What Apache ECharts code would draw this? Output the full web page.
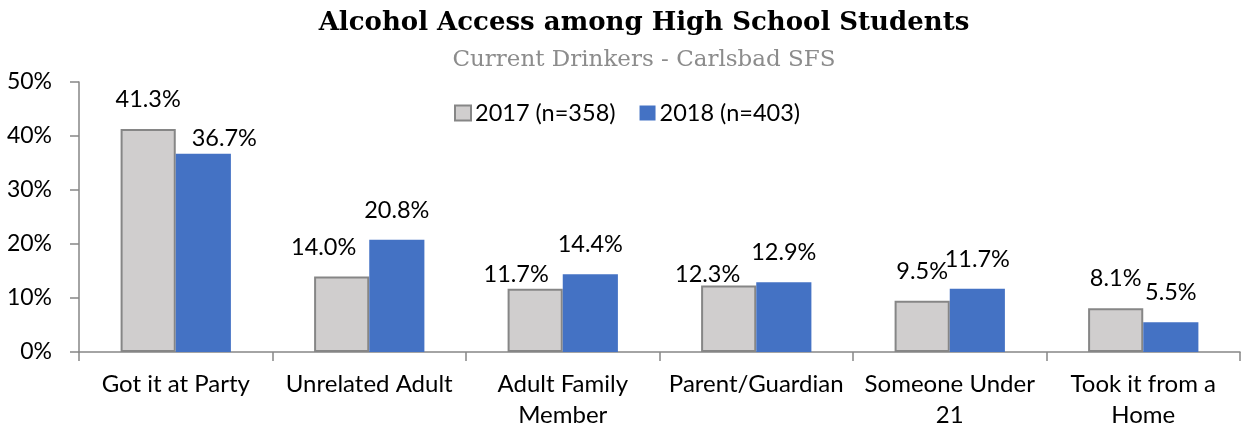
<!DOCTYPE html>
<html>
<head>
<meta charset="utf-8">
<script src="https://cdn.jsdelivr.net/npm/echarts@6/dist/echarts.min.js"></script>
<style>
  html, body { margin: 0; padding: 0; background: #fff; }
  #chart { width: 1241px; height: 431px; }
</style>
</head>
<body>
<div id="chart"></div>
<script>
// Where current drinkers got alcohol, by survey year (percent of respondents)
const categories = [
  'Got it at Party',
  'Unrelated Adult',
  'Adult Family\nMember',
  'Parent/Guardian',
  'Someone Under\n21',
  'Took it from a\nHome'
];
const series2017 = [41.3, 14.0, 11.7, 12.3, 9.5, 8.1];
const series2018 = [36.7, 20.8, 14.4, 12.9, 11.7, 5.5];
const seriesNames = ['2017 (n=358)', '2018 (n=403)'];
const yTicks = [0, 10, 20, 30, 40, 50];

// hand-placed label nudges [dx, dy] so overlapping labels stay readable
const nudge2017 = [[0, 0], [-18, 1], [-19, 15], [-21, 18], [0, 0], [0, 0]];
const nudge2018 = [[21, 14], [0, 0], [0, 0], [0, 0], [0, 0], [0, 0]];

const FONT = 'Lato';
const pct = v => v.toFixed(1) + '%';

function barData(values, nudges) {
  return values.map((v, i) => ({
    value: v,
    label: { offset: nudges[i] }
  }));
}

const labelStyle = {
  show: true,
  position: 'top',
  distance: 18,
  fontFamily: FONT,
  fontSize: 23.5,
  lineHeight: 23,
  color: '#000',
  formatter: p => pct(p.value)
};

const chart = echarts.init(document.getElementById('chart'), null, { renderer: 'canvas' });

chart.setOption({
  animation: false,
  backgroundColor: '#fff',
  title: [
    {
      text: 'Alcohol Access among High School Students',
      left: 639,
      top: 5,
      textAlign: 'center',
      textStyle: {
        fontFamily: 'DejaVu Serif',
        fontWeight: 'bold',
        fontSize: 26,
        color: '#000'
      }
    },
    {
      text: 'Current Drinkers - Carlsbad SFS',
      left: 639,
      top: 44,
      textAlign: 'center',
      textStyle: {
        fontFamily: 'DejaVu Serif',
        fontWeight: 'normal',
        fontSize: 23,
        color: '#8c8c8c'
      }
    }
  ],
  legend: {
    data: seriesNames,
    left: 449,
    top: 96,
    itemWidth: 16,
    itemHeight: 15,
    itemGap: 24,
    icon: 'rect',
    textStyle: { fontFamily: FONT, fontSize: 23.5, color: '#000', padding: [0, 0, 0, -1] }
  },
  grid: {
    left: 79,
    right: 1,
    top: 82,
    bottom: 79,
    containLabel: false
  },
  xAxis: {
    type: 'category',
    data: categories,
    boundaryGap: true,
    axisLine: { lineStyle: { color: '#868686', width: 1.5 } },
    axisTick: { show: true, interval: 0, length: 9, lineStyle: { color: '#868686', width: 1.5 } },
    axisLabel: {
      interval: 0,
      margin: 17,
      fontFamily: FONT,
      fontSize: 24,
      lineHeight: 31,
      color: '#000'
    },
    splitLine: { show: false }
  },
  yAxis: {
    type: 'value',
    min: yTicks[0],
    max: yTicks[yTicks.length - 1],
    interval: yTicks[1] - yTicks[0],
    axisLine: { show: true, lineStyle: { color: '#868686', width: 1.5 } },
    axisTick: { show: true, length: 9, lineStyle: { color: '#868686', width: 1.5 } },
    axisLabel: {
      margin: 27,
      fontFamily: FONT,
      fontSize: 23,
      color: '#000',
      formatter: v => v + '%'
    },
    splitLine: { show: false }
  },
  series: [
    {
      name: seriesNames[0],
      type: 'bar',
      data: barData(series2017, nudge2017),
      barGap: '0%',
      barCategoryGap: '43%',
      itemStyle: { color: '#d0cece', borderColor: '#868686', borderWidth: 2 },
      label: labelStyle
    },
    {
      name: seriesNames[1],
      type: 'bar',
      data: barData(series2018, nudge2018),
      barGap: '0%',
      barCategoryGap: '43%',
      itemStyle: { color: '#4472c4' },
      label: labelStyle
    }
  ]
});
</script>
</body>
</html>
